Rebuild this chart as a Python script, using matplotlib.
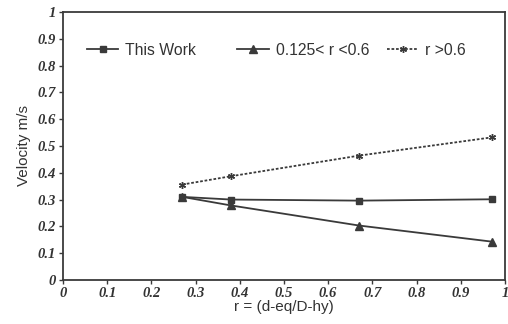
import numpy as np
import matplotlib
matplotlib.use('Agg')
import matplotlib.pyplot as plt

# Values
r_vals = [0.27, 0.38, 0.67, 0.97]
this_work = [0.31, 0.30, 0.296, 0.301]
mid_range = [0.31, 0.278, 0.203, 0.143]
high_range = [0.356, 0.387, 0.464, 0.532]

tick_vals = [0, 0.1, 0.2, 0.3, 0.4, 0.5, 0.6, 0.7, 0.8, 0.9, 1]
tick_text = ['0', '0.1', '0.2', '0.3', '0.4', '0.5', '0.6', '0.7', '0.8', '0.9', '1']

line_col = '#3a3a3a'

fig = plt.figure(figsize=(5.08, 3.24), dpi=100)
ax = fig.add_axes([0.124, 0.136, 0.870, 0.827])

l1, = ax.plot(r_vals, this_work, color=line_col, lw=1.3, marker='s', ms=5, label='This Work')
l2, = ax.plot(r_vals, mid_range, color=line_col, lw=1.3, marker='^', ms=6, label='0.125< r <0.6')
l3, = ax.plot(r_vals, high_range, color=line_col, lw=1.3, ls=(0, (1.5, 1)), marker=(6, 2, 0), ms=5,
              mew=1, label='r >0.6')

ax.set_xlim(0, 1)
ax.set_ylim(0, 1)
ax.set_xticks(tick_vals)
ax.set_yticks(tick_vals)
ax.set_xticklabels(tick_text, family='Liberation Serif', style='italic', weight='bold',
                   fontsize=10.5, color='#333333')
ax.set_yticklabels(tick_text, family='Liberation Serif', style='italic', weight='bold',
                   fontsize=10.5, color='#333333')
ax.tick_params(direction='out', length=3, width=1, color=line_col, pad=2)

for s in ax.spines.values():
    s.set_color(line_col)
    s.set_linewidth(1.3)

ax.set_xlabel('r = (d-eq/D-hy)', family='Liberation Sans', fontsize=11, color='#333333', labelpad=0)
ax.set_ylabel('Velocity m/s', family='Liberation Sans', fontsize=11, color='#333333', labelpad=5)

# legend entries placed one by one, like the original layout
leg_x = [0.054, 0.394, 0.733]
legs = []
for ln, lx in zip([l1, l2, l3], leg_x):
    leg = ax.legend([ln], [ln.get_label()], loc='center left', bbox_to_anchor=(lx, 0.858),
                    frameon=False, borderpad=0, borderaxespad=0,
                    handlelength=2.0, handletextpad=0.45,
                    prop={'family': 'Liberation Sans', 'size': 11.3})
    for t in leg.get_texts():
        t.set_color('#333333')
    legs.append(leg)
for leg in legs[:-1]:
    ax.add_artist(leg)

fig.savefig('out.png', dpi=100)
